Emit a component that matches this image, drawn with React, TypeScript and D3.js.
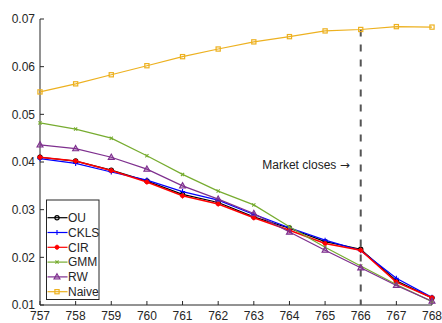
import React from "react";
import * as d3 from "d3";

const days = [757, 758, 759, 760, 761, 762, 763, 764, 765, 766, 767, 768];
const yTicks = [0.01, 0.02, 0.03, 0.04, 0.05, 0.06, 0.07];

const ou = [0.041, 0.0402, 0.0383, 0.036, 0.0332, 0.0315, 0.0285, 0.0261, 0.0233, 0.0217, 0.0151, 0.0115];
const ckls = [0.0407, 0.0397, 0.0379, 0.0362, 0.0338, 0.032, 0.029, 0.0262, 0.0236, 0.0214, 0.0156, 0.0116];
const cir = [0.041, 0.0402, 0.0382, 0.0358, 0.0329, 0.0312, 0.0283, 0.0257, 0.0229, 0.0215, 0.0148, 0.0115];
const gmm = [0.0482, 0.0469, 0.045, 0.0413, 0.0374, 0.0339, 0.031, 0.0264, 0.0221, 0.0182, 0.0143, 0.0107];
const rw = [0.0436, 0.0428, 0.041, 0.0385, 0.035, 0.0322, 0.0292, 0.0253, 0.0215, 0.0178, 0.0141, 0.0108];
const naive = [0.0547, 0.0564, 0.0583, 0.0602, 0.0621, 0.0637, 0.0652, 0.0663, 0.0675, 0.0678, 0.0684, 0.0683];

const closeDay = 766;

type Marker = "circle" | "plus" | "star" | "cross" | "triangle" | "square";
const series: { name: string; values: number[]; color: string; marker: Marker }[] = [
  { name: "OU", values: ou, color: "#000000", marker: "circle" },
  { name: "CKLS", values: ckls, color: "#0000ff", marker: "plus" },
  { name: "CIR", values: cir, color: "#ff0000", marker: "star" },
  { name: "GMM", values: gmm, color: "#77ac30", marker: "cross" },
  { name: "RW", values: rw, color: "#7e2f8e", marker: "triangle" },
  { name: "Naive", values: naive, color: "#edb120", marker: "square" },
];

const W = 442;
const H = 323;
const m = { left: 40, right: 10, top: 19, bottom: 18 };
const FONT = "'Liberation Sans', Arial, Helvetica, sans-serif";
const AXIS = "#262626";

function MarkerShape({ type, x, y, color }: { type: Marker; x: number; y: number; color: string }) {
  switch (type) {
    case "circle":
      return <circle cx={x} cy={y} r={2.1} fill="none" stroke={color} strokeWidth={1.2} />;
    case "plus":
      return (
        <path d={`M${x - 2.5},${y}H${x + 2.5}M${x},${y - 2.5}V${y + 2.5}`} stroke={color} strokeWidth={1.1} />
      );
    case "star":
      return (
        <g>
          <circle cx={x} cy={y} r={2.3} fill={color} />
          <path d={`M${x - 2.7},${y}H${x + 2.7}M${x},${y - 2.7}V${y + 2.7}`} stroke={color} strokeWidth={1} />
        </g>
      );
    case "cross":
      return (
        <path
          d={`M${x - 1.6},${y - 1.6}L${x + 1.6},${y + 1.6}M${x - 1.6},${y + 1.6}L${x + 1.6},${y - 1.6}`}
          stroke={color}
          strokeWidth={1.1}
        />
      );
    case "triangle":
      return (
        <path
          d={`M${x},${y - 3.2}L${x + 3},${y + 2.1}L${x - 3},${y + 2.1}Z`}
          fill={color}
          fillOpacity={0.35}
          stroke={color}
          strokeWidth={1.1}
        />
      );
    case "square":
      return (
        <rect x={x - 2.1} y={y - 2.1} width={4.2} height={4.2} fill="none" stroke={color} strokeWidth={1.2} />
      );
  }
}

export default function App() {
  const x = d3.scaleLinear().domain([757, 768]).range([m.left, W - m.right]);
  const y = d3.scaleLinear().domain([0.01, 0.07]).range([H - m.bottom, m.top]);
  const line = d3
    .line<number>()
    .x((_, i) => x(days[i]))
    .y((v) => y(v));

  const x0 = x(757);
  const y0 = y(0.01);

  const legendX = 46.5;
  const legendY = 200;
  const rowH = 14.8;

  return (
    <svg
      width={W}
      height={H}
      style={{ position: "absolute", left: 0, top: 0, background: "#ffffff" }}
      fontFamily={FONT}
    >
      {/* axes */}
      <line x1={x0} x2={x0} y1={y(0.07)} y2={y0} stroke={AXIS} strokeWidth={1} />
      <line x1={x0} x2={x(768)} y1={y0} y2={y0} stroke={AXIS} strokeWidth={1} />
      {yTicks.map((t) => (
        <g key={t}>
          <line x1={x0} x2={x0 + 4} y1={y(t)} y2={y(t)} stroke={AXIS} />
          <text x={x0 - 5} y={y(t)} dy="0.35em" textAnchor="end" fontSize={12} fill={AXIS}>
            {d3.format(".2f")(t)}
          </text>
        </g>
      ))}
      {days.map((d) => (
        <g key={d}>
          <line x1={x(d)} x2={x(d)} y1={y0} y2={y0 - 4} stroke={AXIS} />
          <text x={x(d)} y={y0 + 15} textAnchor="middle" fontSize={12} fill={AXIS}>
            {d}
          </text>
        </g>
      ))}

      {/* market close marker */}
      <line
        x1={x(closeDay)}
        x2={x(closeDay)}
        y1={y(naive[days.indexOf(closeDay)])}
        y2={y0}
        stroke="#555555"
        strokeWidth={2}
        strokeDasharray="7,8"
      />
      <text x={x(closeDay) - 11} y={y(0.0386)} textAnchor="end" fontSize={12} fill="#222">
        Market closes{" "}
        <tspan fontFamily="'DejaVu Sans', sans-serif" fontSize={12}>
          →
        </tspan>
      </text>

      {/* series */}
      {series.map((s) => (
        <g key={s.name}>
          <path d={line(s.values) ?? ""} fill="none" stroke={s.color} strokeWidth={s.name === "CIR" ? 1.6 : 1.2} />
          {s.values.map((v, i) => (
            <MarkerShape key={i} type={s.marker} x={x(days[i])} y={y(v)} color={s.color} />
          ))}
        </g>
      ))}

      {/* legend */}
      <rect x={legendX} y={legendY} width={52.5} height={99.5} fill="#ffffff" stroke={AXIS} strokeWidth={1} />
      {series.map((s, i) => {
        const cy = legendY + 17.7 + i * rowH;
        return (
          <g key={s.name}>
            <line x1={legendX + 1} x2={legendX + 21} y1={cy} y2={cy} stroke={s.color} strokeWidth={1.2} />
            <MarkerShape type={s.marker} x={legendX + 10.5} y={cy} color={s.color} />
            <text x={legendX + 21.5} y={cy} dy="0.36em" fontSize={12} fill={AXIS}>
              {s.name}
            </text>
          </g>
        );
      })}
    </svg>
  );
}
